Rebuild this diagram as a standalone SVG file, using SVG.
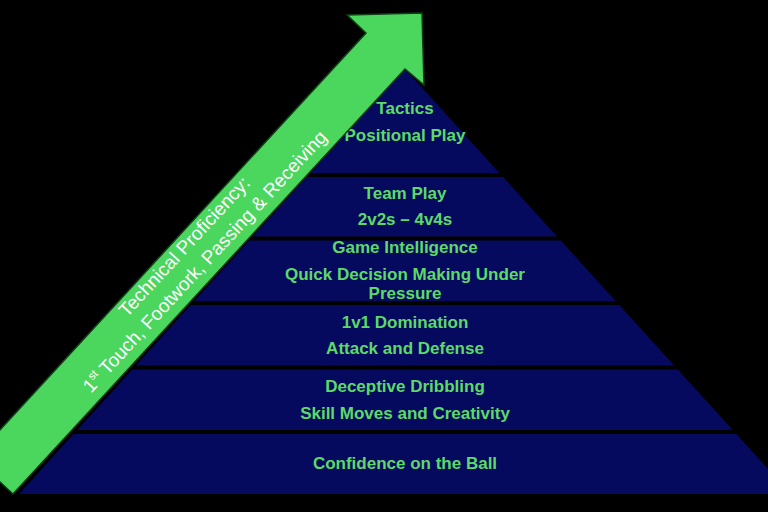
<svg xmlns="http://www.w3.org/2000/svg" width="768" height="512" viewBox="0 0 768 512">
  <style>
    .tier { fill: #060A5E; }
    .lbl { font-family: "Liberation Sans", Arial, sans-serif; font-weight: bold; font-size: 17px; fill: #5CDA68; text-anchor: middle; }
    .arw { fill: #4BD65E; stroke: #123d18; stroke-width: 1.5; stroke-linejoin: miter; }
    .arwtxt { font-family: "Liberation Sans", Arial, sans-serif; font-size: 19px; fill: #FFFFFF; text-anchor: middle; }
  </style>
  <rect x="0" y="0" width="768" height="512" fill="#000000"/>

  <g id="tier-tactics">
    <polygon class="tier" points="405,69 310.6,173 499.4,173"/>
    <text class="lbl" x="405" y="114">Tactics</text>
    <text class="lbl" x="405" y="141">Positional Play</text>
  </g>
  <g id="tier-team-play">
    <polygon class="tier" points="306.9,177 503.1,177 557.1,236.5 252.9,236.5"/>
    <text class="lbl" x="405" y="199">Team Play</text>
    <text class="lbl" x="405" y="225">2v2s – 4v4s</text>
  </g>
  <g id="tier-game-intelligence">
    <polygon class="tier" points="249.3,240.5 560.7,240.5 615.7,301 194.3,301"/>
    <text class="lbl" x="405" y="253">Game Intelligence</text>
    <text class="lbl" x="405" y="280">Quick Decision Making Under</text>
    <text class="lbl" x="405" y="299">Pressure</text>
  </g>
  <g id="tier-1v1">
    <polygon class="tier" points="190.7,305 619.3,305 674.2,365.5 135.8,365.5"/>
    <text class="lbl" x="405" y="328">1v1 Domination</text>
    <text class="lbl" x="405" y="354">Attack and Defense</text>
  </g>
  <g id="tier-dribbling">
    <polygon class="tier" points="132.2,369.5 677.8,369.5 732.8,430 77.2,430"/>
    <text class="lbl" x="405" y="392">Deceptive Dribbling</text>
    <text class="lbl" x="405" y="419">Skill Moves and Creativity</text>
  </g>
  <g id="tier-confidence">
    <polygon class="tier" points="73.6,434 736.4,434 790.9,494 19.1,494"/>
    <text class="lbl" x="405" y="469">Confidence on the Ball</text>
  </g>

  <g id="progression-arrow">
    <polygon class="arw" points="422,13 347,15 366,33 -26,458 13,494 405,69 424,85"/>
    <g transform="translate(189,251) rotate(-47.2)">
      <text class="arwtxt" x="0" y="0">Technical Proficiency:</text>
      <text class="arwtxt" x="3" y="25">1<tspan font-size="11.5" dy="-7.5">st</tspan><tspan dy="7.5"> Touch, Footwork, Passing &amp; Receiving</tspan></text>
    </g>
  </g>
</svg>
